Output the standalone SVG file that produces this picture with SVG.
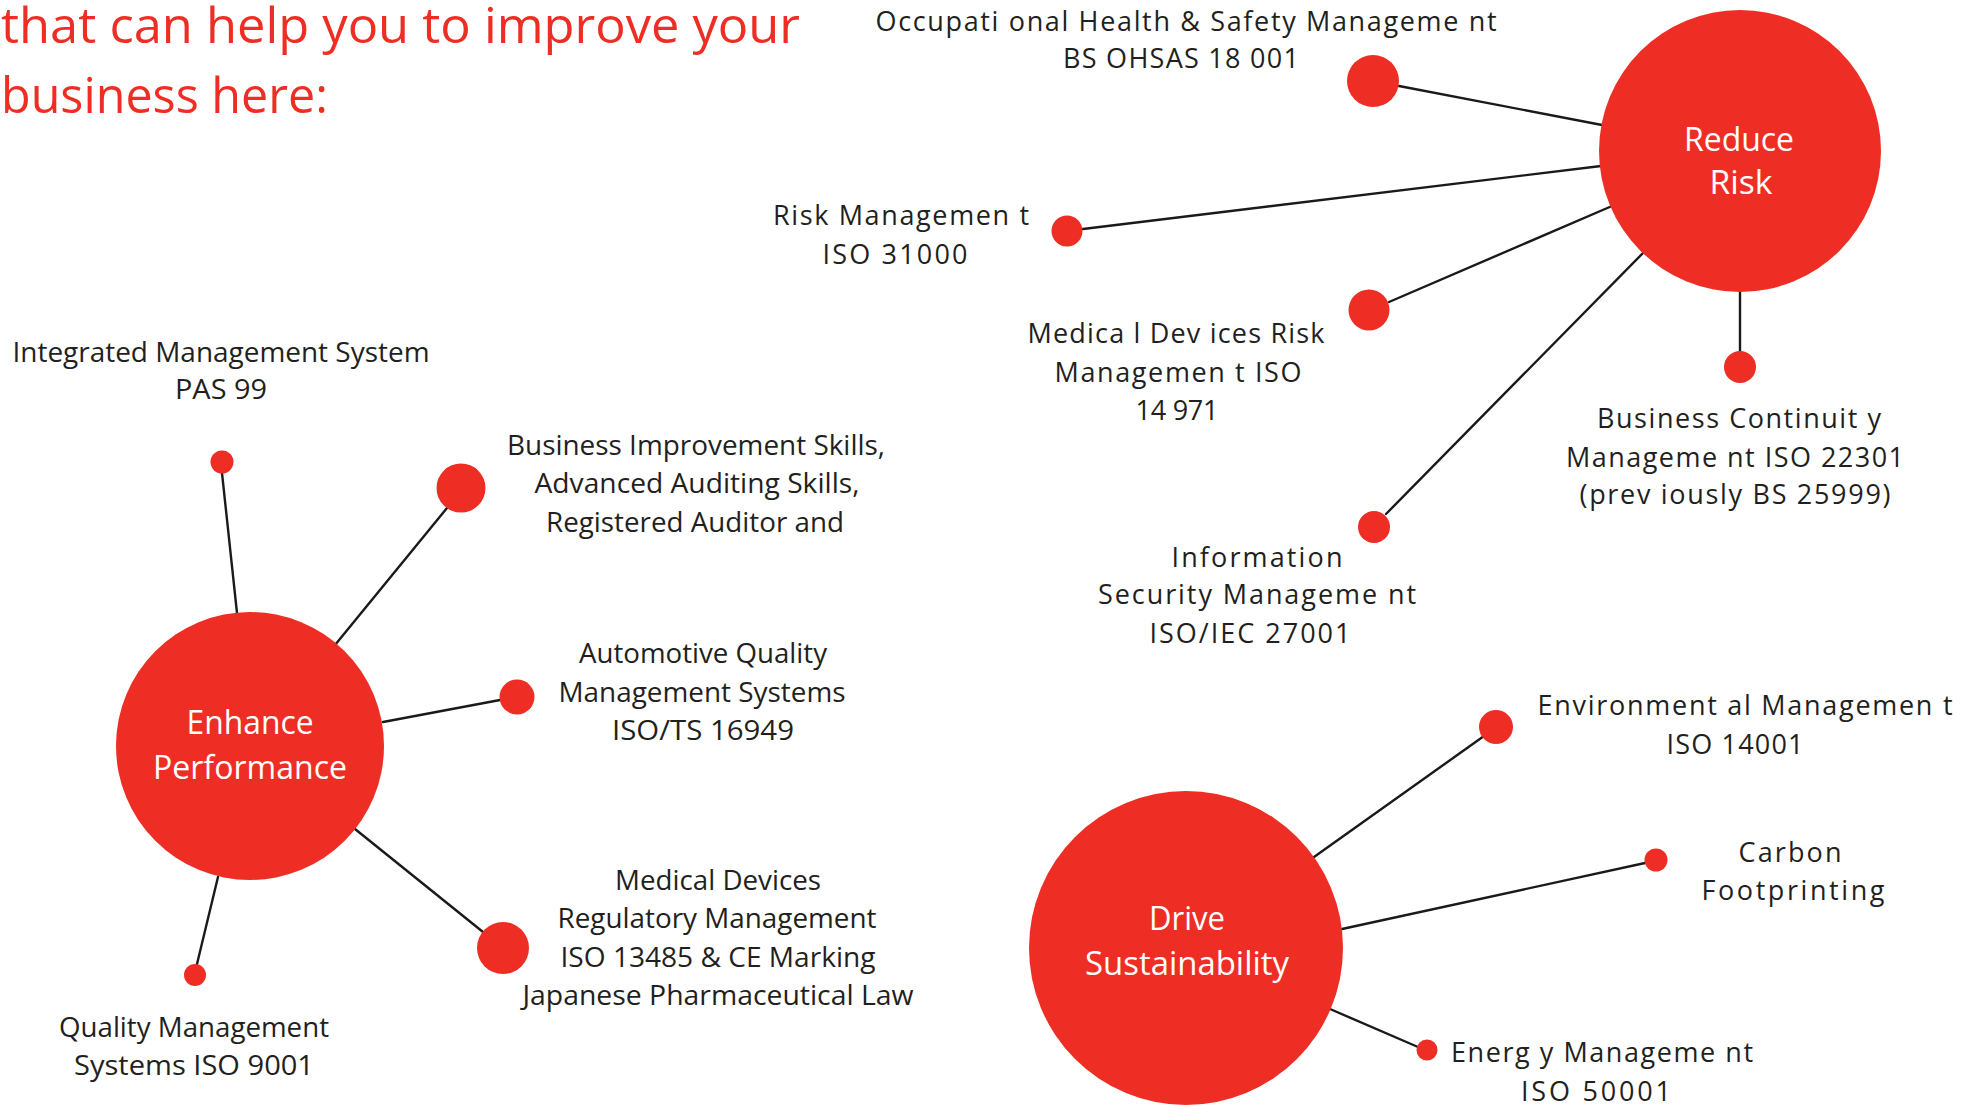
<svg xmlns="http://www.w3.org/2000/svg" width="1976" height="1106" viewBox="0 0 1976 1106">
<style>
.bg{fill:#ffffff}
.hub{fill:#EE2E24}
.dot{fill:#EE2E24}
.ln{stroke:#1a1a1a;stroke-width:2.4;fill:none;stroke-linecap:round}
.lbl{font-family:"Open Sans","Liberation Sans",sans-serif;font-size:27px;fill:#231F20;text-anchor:middle}
.hubt{font-family:"Open Sans","Liberation Sans",sans-serif;font-size:32px;fill:#ffffff;text-anchor:middle}
.title{font-family:"Open Sans","Liberation Sans",sans-serif;font-size:50px;fill:#EE2E24}
</style>
<rect class="bg" x="0" y="0" width="1976" height="1106"/>
<g id="title">
<text class="title" x="1" y="43" textLength="799" lengthAdjust="spacingAndGlyphs">that can help you to improve your</text>
<text class="title" x="1" y="113" textLength="327" lengthAdjust="spacingAndGlyphs">business here:</text>
</g>
<g id="connectors">
<line class="ln" x1="1399" y1="86" x2="1602" y2="125"/>
<line class="ln" x1="1083" y1="229" x2="1601" y2="166"/>
<line class="ln" x1="1389" y1="302" x2="1612" y2="206"/>
<line class="ln" x1="1740" y1="292" x2="1740" y2="352"/>
<line class="ln" x1="1386" y1="514" x2="1643" y2="253"/>
<line class="ln" x1="222" y1="473" x2="237" y2="613"/>
<line class="ln" x1="447" y1="508" x2="335" y2="645"/>
<line class="ln" x1="500" y1="700" x2="383" y2="722"/>
<line class="ln" x1="483" y1="932" x2="355" y2="829"/>
<line class="ln" x1="197" y1="964" x2="218" y2="877"/>
<line class="ln" x1="1484" y1="736" x2="1314" y2="857"/>
<line class="ln" x1="1645" y1="863" x2="1342" y2="929"/>
<line class="ln" x1="1418" y1="1047" x2="1330" y2="1009"/>
</g>
<g id="reduce-risk">
<circle class="hub" cx="1740" cy="151" r="141"/>
<text class="hubt" x="1739" y="151" textLength="110" lengthAdjust="spacingAndGlyphs">Reduce</text>
<text class="hubt" x="1741" y="194" textLength="63" lengthAdjust="spacingAndGlyphs">Risk</text>
</g>
<g id="ohsas">
<circle class="dot" cx="1373" cy="81" r="26"/>
<text class="lbl" x="1186" y="31" textLength="621" lengthAdjust="spacing">Occupati onal Health &amp; Safety Manageme nt</text>
<text class="lbl" x="1181" y="68" textLength="236" lengthAdjust="spacing">BS OHSAS 18 001</text>
</g>
<g id="risk-management">
<circle class="dot" cx="1067" cy="231" r="15.5"/>
<text class="lbl" x="901" y="225" textLength="256" lengthAdjust="spacing">Risk Managemen t</text>
<text class="lbl" x="895" y="264" textLength="145" lengthAdjust="spacing">ISO 31000</text>
</g>
<g id="medical-devices-risk">
<circle class="dot" cx="1369" cy="310" r="20.5"/>
<text class="lbl" x="1176" y="343" textLength="297" lengthAdjust="spacing">Medica l Dev ices Risk</text>
<text class="lbl" x="1178" y="382" textLength="247" lengthAdjust="spacing">Managemen t ISO</text>
<text class="lbl" x="1177" y="420" textLength="83" lengthAdjust="spacing">14 971</text>
</g>
<g id="business-continuity">
<circle class="dot" cx="1740" cy="367" r="16"/>
<text class="lbl" x="1739" y="428" textLength="284" lengthAdjust="spacing">Business Continuit y</text>
<text class="lbl" x="1735" y="467" textLength="338" lengthAdjust="spacing">Manageme nt ISO 22301</text>
<text class="lbl" x="1735" y="504" textLength="311" lengthAdjust="spacing">(prev iously BS 25999)</text>
</g>
<g id="information-security">
<circle class="dot" cx="1374" cy="527" r="16"/>
<text class="lbl" x="1257" y="567" textLength="171" lengthAdjust="spacing">Information</text>
<text class="lbl" x="1257" y="604" textLength="318" lengthAdjust="spacing">Security Manageme nt</text>
<text class="lbl" x="1250" y="643" textLength="201" lengthAdjust="spacing">ISO/IEC 27001</text>
</g>
<g id="enhance-performance">
<circle class="hub" cx="250" cy="746" r="134"/>
<text class="hubt" x="250" y="734" textLength="127" lengthAdjust="spacingAndGlyphs">Enhance</text>
<text class="hubt" x="250" y="779" textLength="194" lengthAdjust="spacingAndGlyphs">Performance</text>
</g>
<g id="integrated-management">
<circle class="dot" cx="222" cy="462" r="11.5"/>
<text class="lbl" x="221" y="362" textLength="417" lengthAdjust="spacingAndGlyphs">Integrated Management System</text>
<text class="lbl" x="221" y="399" textLength="92" lengthAdjust="spacingAndGlyphs">PAS 99</text>
</g>
<g id="business-improvement">
<circle class="dot" cx="461" cy="488" r="24.5"/>
<text class="lbl" x="696" y="455" textLength="378" lengthAdjust="spacingAndGlyphs">Business Improvement Skills,</text>
<text class="lbl" x="697" y="493" textLength="325" lengthAdjust="spacingAndGlyphs">Advanced Auditing Skills,</text>
<text class="lbl" x="695" y="532" textLength="298" lengthAdjust="spacingAndGlyphs">Registered Auditor and</text>
</g>
<g id="automotive-quality">
<circle class="dot" cx="517" cy="697" r="17.5"/>
<text class="lbl" x="703" y="663" textLength="248" lengthAdjust="spacingAndGlyphs">Automotive Quality</text>
<text class="lbl" x="702" y="702" textLength="287" lengthAdjust="spacingAndGlyphs">Management Systems</text>
<text class="lbl" x="703" y="740" textLength="182" lengthAdjust="spacingAndGlyphs">ISO/TS 16949</text>
</g>
<g id="medical-devices-regulatory">
<circle class="dot" cx="503" cy="948" r="26"/>
<text class="lbl" x="718" y="890" textLength="206" lengthAdjust="spacingAndGlyphs">Medical Devices</text>
<text class="lbl" x="717" y="928" textLength="319" lengthAdjust="spacingAndGlyphs">Regulatory Management</text>
<text class="lbl" x="718" y="967" textLength="315" lengthAdjust="spacingAndGlyphs">ISO 13485 &amp; CE Marking</text>
<text class="lbl" x="718" y="1005" textLength="391" lengthAdjust="spacingAndGlyphs">Japanese Pharmaceutical Law</text>
</g>
<g id="quality-management">
<circle class="dot" cx="195" cy="975" r="11"/>
<text class="lbl" x="194" y="1037" textLength="270" lengthAdjust="spacingAndGlyphs">Quality Management</text>
<text class="lbl" x="194" y="1075" textLength="240" lengthAdjust="spacingAndGlyphs">Systems ISO 9001</text>
</g>
<g id="drive-sustainability">
<circle class="hub" cx="1186" cy="948" r="157"/>
<text class="hubt" x="1187" y="930" textLength="76" lengthAdjust="spacingAndGlyphs">Drive</text>
<text class="hubt" x="1187" y="975" textLength="204" lengthAdjust="spacingAndGlyphs">Sustainability</text>
</g>
<g id="environmental-management">
<circle class="dot" cx="1496" cy="727" r="17"/>
<text class="lbl" x="1745" y="715" textLength="415" lengthAdjust="spacing">Environment al Managemen t</text>
<text class="lbl" x="1735" y="754" textLength="137" lengthAdjust="spacing">ISO 14001</text>
</g>
<g id="carbon-footprinting">
<circle class="dot" cx="1656" cy="860" r="11.5"/>
<text class="lbl" x="1790" y="862" textLength="103" lengthAdjust="spacing">Carbon</text>
<text class="lbl" x="1793" y="900" textLength="183" lengthAdjust="spacing">Footprinting</text>
</g>
<g id="energy-management">
<circle class="dot" cx="1427" cy="1050" r="10.5"/>
<text class="lbl" x="1602" y="1062" textLength="302" lengthAdjust="spacing">Energ y Manageme nt</text>
<text class="lbl" x="1596" y="1101" textLength="150" lengthAdjust="spacing">ISO 50001</text>
</g>
</svg>
